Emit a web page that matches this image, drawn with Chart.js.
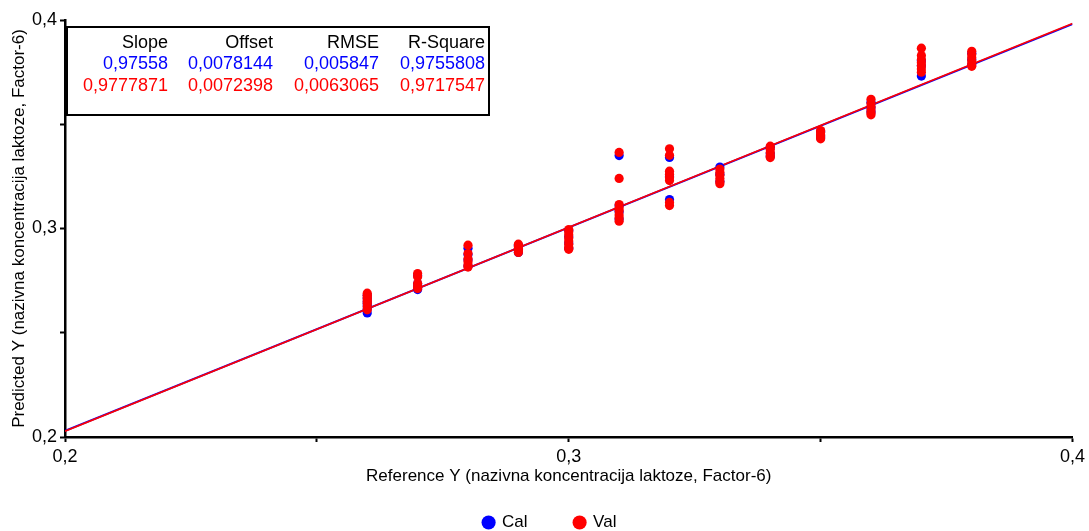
<!DOCTYPE html>
<html>
<head>
<meta charset="utf-8">
<script src="https://cdn.jsdelivr.net/npm/chart.js@4.4.1/dist/chart.umd.min.js"></script>
<style>
  html, body { margin: 0; padding: 0; background: #fff; }
  #wrap { width: 1089px; height: 531px; position: relative; }
</style>
</head>
<body>
<div id="wrap"><canvas id="myChart"></canvas></div>
<script>
// reference levels (x) and predicted values
const refLevels = [0.26, 0.27, 0.28, 0.29, 0.30, 0.31, 0.32, 0.33, 0.34, 0.35, 0.36, 0.37, 0.38]

const calPred = [
  [0.2680, 0.2665, 0.2650, 0.2640, 0.2630, 0.2615, 0.2595],
  [0.2775, 0.2735, 0.2720, 0.2707],
  [0.2905, 0.2875, 0.2850, 0.2820],
  [0.2920, 0.2900, 0.2885],
  [0.2990, 0.2960, 0.2930, 0.2905],
  [0.3350, 0.3110, 0.3080, 0.3045],
  [0.3341, 0.3250, 0.3139],
  [0.3295, 0.3260, 0.3225],
  [0.3390, 0.3360, 0.3345],
  [0.3465, 0.3445, 0.3435],
  [0.3605, 0.3580, 0.3560],
  [0.3805, 0.3780, 0.3731],
  [0.3840, 0.3810, 0.3785]
]

const valPred = [
  [0.2690, 0.2680, 0.2670, 0.2660, 0.2650, 0.2640, 0.2625, 0.2610],
  [0.2784, 0.2769, 0.2736, 0.2721, 0.2712],
  [0.2920, 0.2880, 0.2855, 0.2840, 0.2825, 0.2815],
  [0.2925, 0.2915, 0.2905, 0.2895, 0.2885],
  [0.2995, 0.2985, 0.2970, 0.2955, 0.2940, 0.2925, 0.2910, 0.2900],
  [0.3365, 0.3240, 0.3115, 0.3100, 0.3085, 0.3065, 0.3050, 0.3035],
  [0.3382, 0.3351, 0.3275, 0.3260, 0.3245, 0.3230, 0.3125, 0.3110],
  [0.3285, 0.3270, 0.3255, 0.3240, 0.3225, 0.3215],
  [0.3395, 0.3380, 0.3365, 0.3350, 0.3340],
  [0.3470, 0.3460, 0.3450, 0.3440, 0.3430],
  [0.3620, 0.3600, 0.3585, 0.3570, 0.3555, 0.3545],
  [0.3865, 0.3830, 0.3810, 0.3795, 0.3780, 0.3765, 0.3750],
  [0.3850, 0.3835, 0.3820, 0.3805, 0.3790, 0.3778]
]

// regression stats shown in the box
const statHeaders = ["Slope", "Offset", "RMSE", "R-Square"]
const calStats = ["0,97558", "0,0078144", "0,005847", "0,9755808"]
const valStats = ["0,9777871", "0,0072398", "0,0063065", "0,9717547"]
const calSlope = 0.97558, calOffset = 0.0078144
const valSlope = 0.9777871, valOffset = 0.0072398
const lineX = [0.2, 0.4]

const BLUE = "#0000ff"
const RED = "#ff0000"

function toPoints(levels, preds) {
  let pts = []
  levels.forEach((x, i) => {
    preds[i].forEach(y => pts.push({x: x, y: y}))
  })
  return pts
}

function fitLine(slope, offset) {
  return lineX.map(x => ({x: x, y: slope * x + offset}))
}

function commaTick(v) {
  if (Math.abs(v * 10 - Math.round(v * 10)) < 1e-6) {
    return v.toFixed(1).replace(".", ",")
  }
  return ""
}

// draws the stats table in the upper left corner
const statsBox = {
  id: "statsBox",
  afterDatasetsDraw(chart) {
    const ctx = chart.ctx
    ctx.save()
    ctx.fillStyle = "#fff"
    ctx.fillRect(67, 27, 422, 88)
    ctx.strokeStyle = "#000"
    ctx.lineWidth = 2
    ctx.strokeRect(67, 27, 422, 88)
    ctx.font = "18px 'Liberation Sans', Arial, sans-serif"
    ctx.textAlign = "right"
    ctx.textBaseline = "middle"
    const colX = [168, 273, 379, 485]
    const rows = [[statHeaders, "#000"], [calStats, BLUE], [valStats, RED]]
    const rowY = [43, 64, 86]
    rows.forEach((r, j) => {
      ctx.fillStyle = r[1]
      r[0].forEach((t, i) => ctx.fillText(t, colX[i], rowY[j]))
    })
    ctx.restore()
  }
}

Chart.defaults.font.family = "'Liberation Sans', Arial, sans-serif"
Chart.defaults.color = "#000"

const ctx = document.getElementById("myChart").getContext("2d")
const myChart = new Chart(ctx, {
  type: "scatter",
  data: {
    datasets: [
      {
        label: "Cal",
        data: toPoints(refLevels, calPred),
        backgroundColor: BLUE,
        borderWidth: 0,
        pointRadius: 4.6,
        order: 1
      },
      {
        label: "Val",
        data: toPoints(refLevels, valPred),
        backgroundColor: RED,
        borderWidth: 0,
        pointRadius: 4.6,
        order: 0
      },
      {
        label: "calLine",
        data: fitLine(calSlope, calOffset),
        showLine: true,
        borderColor: BLUE,
        borderWidth: 2,
        pointRadius: 0,
        order: 3
      },
      {
        label: "valLine",
        data: fitLine(valSlope, valOffset),
        showLine: true,
        borderColor: RED,
        borderWidth: 1.6,
        pointRadius: 0,
        order: 2
      }
    ]
  },
  options: {
    responsive: true,
    maintainAspectRatio: false,
    animation: false,
    layout: { padding: { top: 20, right: 16, left: 27, bottom: -10 } },
    plugins: {
      tooltip: { enabled: false },
      legend: {
        position: "bottom",
        labels: {
          filter: item => item.text == "Cal" || item.text == "Val",
          sort: (a, b) => a.datasetIndex - b.datasetIndex,
          usePointStyle: true,
          pointStyle: "circle",
          boxWidth: 10,
          boxHeight: 10,
          padding: 47,
          font: { size: 17 }
        }
      }
    },
    scales: {
      x: {
        type: "linear",
        min: 0.2,
        max: 0.4,
        afterFit: s => { s.height = 30 },
        border: { color: "#000", width: 2.5 },
        grid: { drawOnChartArea: false, color: "#000", tickLength: 5, tickWidth: 2 },
        ticks: { stepSize: 0.05, font: { size: 18 }, padding: 4, maxRotation: 0, callback: commaTick },
        title: {
          display: true,
          text: "Reference Y (nazivna koncentracija laktoze, Factor-6)",
          font: { size: 17 },
          padding: { top: 0, bottom: -20 }
        }
      },
      y: {
        type: "linear",
        min: 0.2,
        max: 0.4,
        afterFit: s => { s.width = 38 },
        border: { color: "#000", width: 2.5 },
        grid: { drawOnChartArea: false, color: "#000", tickLength: 5, tickWidth: 2 },
        ticks: { stepSize: 0.05, font: { size: 18 }, padding: 3, callback: commaTick },
        title: {
          display: true,
          text: "Predicted Y (nazivna koncentracija laktoze, Factor-6)",
          font: { size: 17 },
          padding: { top: -18, bottom: 0 }
        }
      }
    }
  },
  plugins: [statsBox]
})
</script>
</body>
</html>
